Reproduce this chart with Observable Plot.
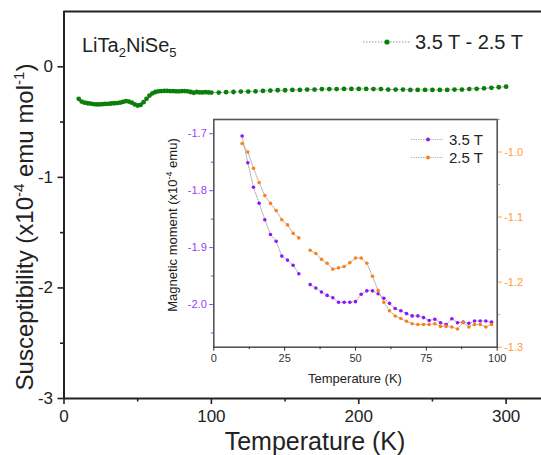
<!DOCTYPE html>
<html>
<head>
<meta charset="utf-8">
<script src="https://cdn.jsdelivr.net/npm/d3@7"></script>
<script src="https://cdn.jsdelivr.net/npm/@observablehq/plot@0.6"></script>
<style>
  html, body { margin: 0; padding: 0; background: white; }
  #chart { position: relative; width: 541px; height: 455px; overflow: hidden; font-family: "Liberation Sans", Arial, sans-serif; }
  #chart svg { position: absolute; }
</style>
</head>
<body>
<div id="chart"></div>
<script>
// Susceptibility difference (3.5 T - 2.5 T), x10^-4 emu/mol
const diffT = [10,12,14,16,18,20,22,24,26,28,30,32,34,36,38,40,42,44,46,48,50,52,54,56,58,60,62,64,66,68,70,72,74,76,78,80,82,84,86,88,90,92,94,96,98,100,
  105,110,115,120,125,130,135,140,145,150,155,160,165,170,175,180,185,190,195,200,205,210,215,220,225,230,235,240,245,250,255,260,265,270,275,280,285,290,295,300];
const diffChi = [-0.29,-0.315,-0.325,-0.33,-0.333,-0.337,-0.34,-0.34,-0.338,-0.336,-0.335,-0.332,-0.33,-0.328,-0.325,-0.318,-0.31,-0.315,-0.325,-0.34,-0.35,-0.345,-0.32,-0.29,-0.26,-0.24,-0.228,-0.222,-0.22,-0.218,-0.218,-0.22,-0.22,-0.222,-0.222,-0.22,-0.22,-0.222,-0.228,-0.235,-0.228,-0.232,-0.232,-0.23,-0.232,-0.233,
  -0.233,-0.23,-0.228,-0.224,-0.224,-0.222,-0.218,-0.215,-0.212,-0.212,-0.209,-0.209,-0.206,-0.206,-0.202,-0.202,-0.202,-0.2,-0.2,-0.2,-0.2,-0.202,-0.202,-0.206,-0.206,-0.206,-0.209,-0.209,-0.209,-0.209,-0.209,-0.209,-0.206,-0.206,-0.202,-0.199,-0.195,-0.19,-0.185,-0.18];

// Inset: magnetic moment at two fields, x10^-4 emu (null = no measurement)
const insetT = [10,12,14,16,18,20,22,24,26,28,30,32,34,36,38,40,42,44,46,48,50,52,54,56,58,60,62,64,66,68,70,72,74,76,78,80,82,84,86,88,90,92,94,96,98];
const m35 = [-1.704,-1.751,-1.794,-1.822,-1.851,-1.877,-1.889,-1.915,-1.922,-1.931,-1.946,null,-1.965,-1.971,-1.978,-1.984,-1.988,-1.996,-1.996,-1.996,-1.995,-1.982,-1.976,-1.976,-1.981,-1.989,-1.998,-2.007,-2.011,-2.016,-2.020,-2.020,-2.023,-2.028,-2.026,-2.032,-2.035,-2.025,-2.032,-2.031,-2.033,-2.029,-2.029,-2.029,-2.031];
const m25 = [-0.987,-1.0,-1.025,-1.047,-1.067,-1.079,-1.090,-1.104,-1.112,-1.125,-1.132,null,-1.151,-1.156,-1.165,-1.171,-1.180,-1.178,-1.176,-1.170,-1.163,-1.163,-1.171,-1.191,-1.213,-1.231,-1.244,-1.252,-1.256,-1.260,-1.264,-1.265,-1.265,-1.265,-1.264,-1.268,-1.268,-1.269,-1.272,-1.262,-1.269,-1.265,-1.265,-1.269,-1.265];

// Axis ticks
const mainXDomain = [0, 324];
const mainYDomain = [-3, 0.5];
const mainXTicks = [0, 100, 200, 300];
const mainXMinor = [50, 150, 250];
const mainYTicks = [-3, -2, -1, 0];
const mainYMinor = [-2.5, -1.5, -0.5];
const insetXTicks = [0, 25, 50, 75, 100];
const insetXMinor = [12.5, 37.5, 62.5, 87.5];
const leftDomain = [-2.075, -1.675];
const leftTicks = [-2.0, -1.9, -1.8, -1.7];
const leftMinor = [-2.05, -1.95, -1.85, -1.75];
const rightDomain = [-1.3, -0.95];
const rightTicks = [-1.3, -1.2, -1.1, -1.0];
const rightMinor = [-1.25, -1.15, -1.05, -0.95];

const FONT = "'Liberation Sans', Arial, sans-serif";
const GREEN = "#0a7f0a", PURPLE = "#8a16ff", PURPLE_TXT = "#9a3cff", ORANGE = "#ff8010", ORANGE_TXT = "#ff9a3c";
const fmt1 = d => d.toFixed(1);
const fmt0 = d => String(d);

const diff = diffT.map((t, i) => ({t, v: diffChi[i]}));
const s35 = insetT.map((t, i) => ({t, v: m35[i]}));
const s25 = insetT.map((t, i) => ({t, v: m25[i]}));

const chart = document.getElementById("chart");

// ---- main panel ----
const main = Plot.plot({
  width: 541, height: 455,
  marginLeft: 63.5, marginRight: 0, marginTop: 11, marginBottom: 57,
  x: {domain: mainXDomain},
  y: {domain: mainYDomain},
  style: {fontFamily: FONT, fontSize: "17px", color: "#222", background: "white", overflow: "visible"},
  marks: [
    Plot.axisX({ticks: mainXTicks, tickFormat: fmt0, tickSize: 6, tickPadding: 5, strokeWidth: 1.6, label: null, fontSize: 17}),
    Plot.axisX({ticks: mainXMinor, tickFormat: () => "", tickSize: 3.5, strokeWidth: 1.6, label: null}),
    Plot.axisY({ticks: mainYTicks, tickFormat: fmt0, tickSize: 6, tickPadding: 5, strokeWidth: 1.6, label: null, fontSize: 17}),
    Plot.axisY({ticks: mainYMinor, tickFormat: () => "", tickSize: 3.5, strokeWidth: 1.6, label: null}),
    Plot.ruleX([mainXDomain[0]], {stroke: "#222", strokeWidth: 2}),
    Plot.ruleY([mainYDomain[0]], {stroke: "#222", strokeWidth: 2}),
    Plot.ruleY([mainYDomain[1]], {stroke: "#222", strokeWidth: 2}),
    Plot.line(diff, {x: "t", y: "v", stroke: "#999", strokeWidth: 1, strokeDasharray: "1.5,1.5"}),
    Plot.dot(diff, {x: "t", y: "v", r: 2.4, fill: GREEN, stroke: "none"})
  ]
});
chart.appendChild(main);

const ms = d3.select(main);
// y-axis label
const yl = ms.append("text").attr("transform", "translate(33,227) rotate(-90)")
  .attr("text-anchor", "middle").attr("font-size", 24).attr("fill", "#222").attr("font-family", FONT);
yl.append("tspan").text("Susceptibility (x10");
yl.append("tspan").attr("dy", -9).attr("font-size", 15).text("-4");
yl.append("tspan").attr("dy", 9).text(" emu mol");
yl.append("tspan").attr("dy", -9).attr("font-size", 15).text("-1");
yl.append("tspan").attr("dy", 9).text(")");
// x-axis label
ms.append("text").attr("x", 315).attr("y", 450).attr("text-anchor", "middle")
  .attr("font-size", 25).attr("fill", "#222").attr("font-family", FONT).text("Temperature (K)");
// compound name
const ttl = ms.append("text").attr("x", 82).attr("y", 52).attr("text-anchor", "start")
  .attr("font-size", 20).attr("fill", "#222").attr("font-family", FONT);
ttl.append("tspan").text("LiTa");
ttl.append("tspan").attr("dy", 5).attr("font-size", 13).text("2");
ttl.append("tspan").attr("dy", -5).text("NiSe");
ttl.append("tspan").attr("dy", 5).attr("font-size", 13).text("5");
// legend
const lg = ms.append("g");
lg.append("line").attr("x1", 363).attr("x2", 410).attr("y1", 42).attr("y2", 42)
  .attr("stroke", "#999").attr("stroke-width", 1).attr("stroke-dasharray", "1.5,1.5");
lg.append("circle").attr("cx", 387).attr("cy", 42).attr("r", 2.6).attr("fill", GREEN);
lg.append("text").attr("x", 415).attr("y", 49).attr("text-anchor", "start").attr("font-size", 20).attr("fill", "#222")
  .attr("font-family", FONT).text("3.5 T - 2.5 T");

// ---- inset panel: two overlaid plots sharing the frame ----
const IN = {left: 150, top: 105, width: 390, height: 290, ml: 63.3, mr: 43.3, mt: 14, mb: 48.3};

const insetLeft = Plot.plot({
  width: IN.width, height: IN.height,
  marginLeft: IN.ml, marginRight: IN.mr, marginTop: IN.mt, marginBottom: IN.mb,
  x: {domain: [0, 100]},
  y: {domain: leftDomain},
  style: {fontFamily: FONT, fontSize: "10.5px", color: "#333", background: "transparent", overflow: "visible"},
  marks: [
    Plot.frame({fill: "white", stroke: "#555", strokeWidth: 1.6}),
    Plot.axisX({ticks: insetXTicks, tickFormat: fmt0, tickSize: 4, tickPadding: 3, label: null, color: "#333", fontSize: 11}),
    Plot.axisX({ticks: insetXMinor, tickFormat: () => "", tickSize: 2.5, label: null, color: "#333"}),
    Plot.axisY({ticks: leftTicks, tickFormat: fmt1, tickSize: 4, tickPadding: 3, label: null, color: PURPLE_TXT, fontSize: 11}),
    Plot.axisY({ticks: leftMinor, tickFormat: () => "", tickSize: 2.5, label: null, color: PURPLE_TXT}),
    Plot.line(s35, {x: "t", y: "v", stroke: "#aaa", strokeWidth: 1, strokeDasharray: "1.2,1.2"}),
    Plot.dot(s35, {x: "t", y: "v", r: 1.8, fill: PURPLE, stroke: "none"})
  ]
});
insetLeft.style.left = IN.left + "px";
insetLeft.style.top = IN.top + "px";
chart.appendChild(insetLeft);

const insetRight = Plot.plot({
  width: IN.width, height: IN.height,
  marginLeft: IN.ml, marginRight: IN.mr, marginTop: IN.mt, marginBottom: IN.mb,
  x: {domain: [0, 100], axis: null},
  y: {domain: rightDomain},
  style: {fontFamily: FONT, fontSize: "11px", color: "#333", background: "transparent", overflow: "visible"},
  marks: [
    Plot.axisY({anchor: "right", ticks: rightTicks, tickFormat: fmt1, tickSize: 4, tickPadding: 3, label: null, color: ORANGE_TXT, fontSize: 11}),
    Plot.axisY({anchor: "right", ticks: rightMinor, tickFormat: () => "", tickSize: 2.5, label: null, color: ORANGE_TXT}),
    Plot.line(s25, {x: "t", y: "v", stroke: "#aaa", strokeWidth: 1, strokeDasharray: "1.2,1.2"}),
    Plot.dot(s25, {x: "t", y: "v", r: 1.8, fill: ORANGE, stroke: "none"})
  ]
});
insetRight.style.left = IN.left + "px";
insetRight.style.top = IN.top + "px";
chart.appendChild(insetRight);

const rs = d3.select(insetRight);
// inset axis titles
const il = rs.append("text").attr("transform", "translate(27,120) rotate(-90)")
  .attr("text-anchor", "middle").attr("font-size", 13).attr("fill", "#222").attr("font-family", FONT);
il.append("tspan").text("Magnetic moment (x10");
il.append("tspan").attr("dy", -5).attr("font-size", 9).text("-4");
il.append("tspan").attr("dy", 5).text(" emu)");
rs.append("text").attr("x", 205).attr("y", 278).attr("text-anchor", "middle")
  .attr("font-size", 13).attr("fill", "#222").attr("font-family", FONT).text("Temperature (K)");
// inset legend
[{label: "3.5 T", color: PURPLE, y: 34.5}, {label: "2.5 T", color: ORANGE, y: 52.5}].forEach(e => {
  rs.append("line").attr("x1", 261).attr("x2", 293).attr("y1", e.y).attr("y2", e.y)
    .attr("stroke", "#aaa").attr("stroke-width", 1).attr("stroke-dasharray", "1.2,1.2");
  rs.append("circle").attr("cx", 278).attr("cy", e.y).attr("r", 1.9).attr("fill", e.color);
  rs.append("text").attr("x", 299).attr("y", e.y + 5.5).attr("text-anchor", "start").attr("font-size", 15).attr("fill", "#222")
    .attr("font-family", FONT).text(e.label);
});
</script>
</body>
</html>
